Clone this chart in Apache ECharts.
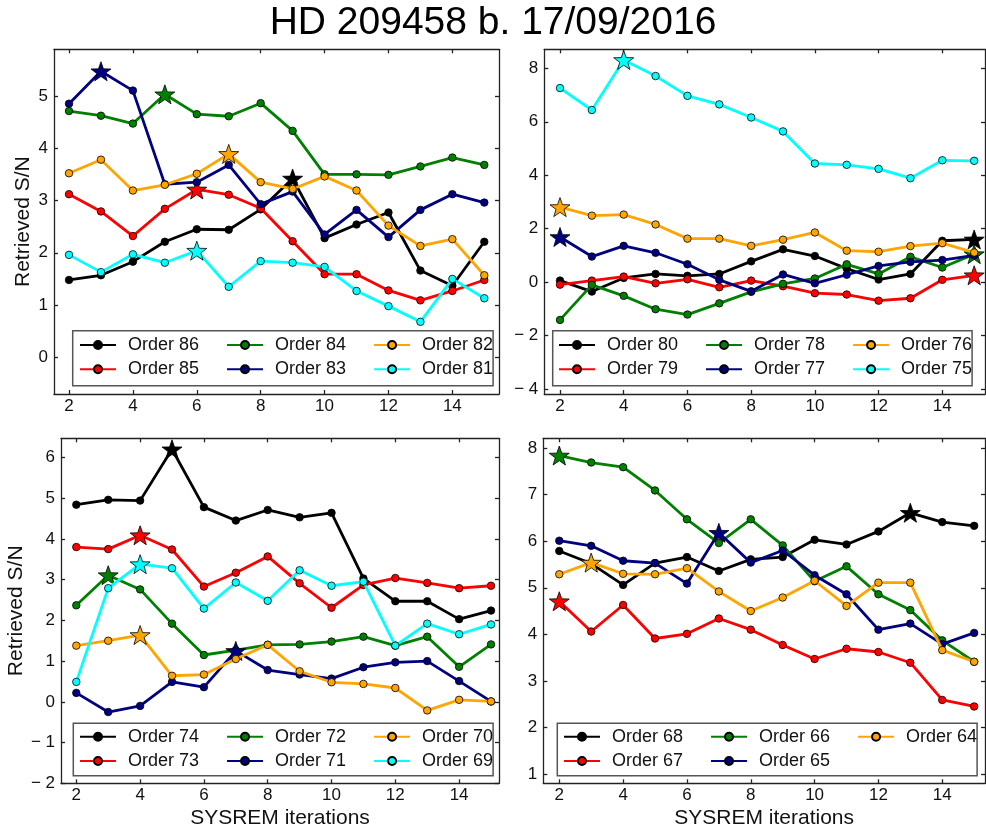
<!DOCTYPE html>
<html>
<head>
<meta charset="utf-8">
<title>HD 209458 b. 17/09/2016</title>
<script src="https://cdn.jsdelivr.net/npm/echarts@6/dist/echarts.min.js"></script>
<style>
  html, body { margin: 0; padding: 0; background: #ffffff; }
  #chart { width: 986px; height: 831px; }
</style>
</head>
<body>
<div id="chart"></div>
<script>
// SYSREM iteration numbers (shared x values for every panel)
const iterations = [2, 3, 4, 5, 6, 7, 8, 9, 10, 11, 12, 13, 14, 15];

// Tick labels
const xTicks = [2, 4, 6, 8, 10, 12, 14];
const yTicksA = [0, 1, 2, 3, 4, 5];
const yTicksB = [-4, -2, 0, 2, 4, 6, 8];
const yTicksC = [-2, -1, 0, 1, 2, 3, 4, 5, 6];
const yTicksD = [1, 2, 3, 4, 5, 6, 7, 8];

// Panel A: orders 86-81
const order86 = [1.48, 1.57, 1.83, 2.21, 2.45, 2.44, 2.83, 3.42, 2.28, 2.54, 2.77, 1.66, 1.37, 2.21];
const order85 = [3.12, 2.79, 2.32, 2.84, 3.21, 3.11, 2.85, 2.22, 1.59, 1.59, 1.28, 1.09, 1.27, 1.48];
const order84 = [4.71, 4.62, 4.47, 5.03, 4.65, 4.61, 4.86, 4.33, 3.50, 3.50, 3.49, 3.65, 3.82, 3.68];
const order83 = [4.85, 5.47, 5.10, 3.31, 3.35, 3.68, 2.93, 3.17, 2.35, 2.82, 2.30, 2.82, 3.12, 2.96];
const order82 = [3.52, 3.78, 3.19, 3.30, 3.51, 3.89, 3.35, 3.22, 3.46, 3.19, 2.52, 2.13, 2.26, 1.57];
const order81 = [1.96, 1.63, 1.97, 1.81, 2.04, 1.35, 1.84, 1.81, 1.73, 1.27, 0.98, 0.68, 1.50, 1.13];

// Panel B: orders 80-75
const order80 = [0.06, -0.35, 0.16, 0.31, 0.24, 0.31, 0.78, 1.23, 0.98, 0.51, 0.10, 0.31, 1.55, 1.60];
const order79 = [-0.09, 0.06, 0.21, -0.04, 0.11, -0.19, 0.06, -0.15, -0.41, -0.46, -0.69, -0.60, 0.09, 0.26];
const order78 = [-1.41, -0.10, -0.51, -1.01, -1.21, -0.79, -0.36, -0.06, 0.14, 0.67, 0.31, 0.95, 0.55, 1.05];
const order77 = [1.69, 0.96, 1.36, 1.10, 0.67, 0.09, -0.34, 0.29, -0.04, 0.28, 0.61, 0.76, 0.83, 1.00];
const order76 = [2.81, 2.49, 2.53, 2.16, 1.63, 1.63, 1.36, 1.59, 1.86, 1.18, 1.14, 1.35, 1.46, 1.11];
const order75 = [7.26, 6.44, 8.31, 7.71, 6.97, 6.65, 6.16, 5.64, 4.44, 4.39, 4.24, 3.89, 4.56, 4.54];

// Panel C: orders 74-69
const order74 = [4.84, 4.96, 4.94, 6.20, 4.78, 4.45, 4.71, 4.53, 4.64, 3.03, 2.47, 2.47, 2.03, 2.24];
const order73 = [3.80, 3.75, 4.09, 3.74, 2.83, 3.17, 3.57, 2.91, 2.31, 2.87, 3.04, 2.92, 2.79, 2.85];
const order72 = [2.37, 3.11, 2.76, 1.92, 1.15, 1.27, 1.40, 1.41, 1.48, 1.60, 1.38, 1.60, 0.86, 1.41];
const order71 = [0.22, -0.25, -0.10, 0.49, 0.36, 1.25, 0.78, 0.67, 0.57, 0.85, 0.97, 1.00, 0.51, 0.01];
const order70 = [1.38, 1.50, 1.64, 0.64, 0.67, 1.05, 1.40, 0.75, 0.48, 0.44, 0.34, -0.21, 0.05, 0.01];
const order69 = [0.49, 2.79, 3.38, 3.28, 2.29, 2.93, 2.48, 3.23, 2.85, 2.95, 1.38, 1.92, 1.66, 1.90];

// Panel D: orders 68-64
const order68 = [5.79, 5.52, 5.06, 5.53, 5.66, 5.36, 5.61, 5.66, 6.03, 5.93, 6.21, 6.61, 6.41, 6.33];
const order67 = [4.71, 4.06, 4.63, 3.91, 4.01, 4.34, 4.10, 3.77, 3.47, 3.69, 3.62, 3.39, 2.59, 2.45];
const order66 = [7.84, 7.69, 7.59, 7.09, 6.47, 5.96, 6.47, 5.91, 5.14, 5.46, 4.86, 4.52, 3.87, 3.41];
const order65 = [6.01, 5.90, 5.58, 5.53, 5.09, 6.18, 5.54, 5.80, 5.27, 4.86, 4.10, 4.23, 3.79, 4.03];
const order64 = [5.29, 5.54, 5.30, 5.29, 5.42, 4.92, 4.50, 4.79, 5.15, 4.61, 5.11, 5.11, 3.66, 3.41];

const palette = ['#000000', '#ff0000', '#008000', '#000080', '#ffa500', '#00ffff'];
const FONT = '"Liberation Sans", Arial, Helvetica, sans-serif';
const STAR = 'path://M0,-10L2.35,-3.24L9.51,-3.09L3.8,1.24L5.88,8.09L0,4L-5.88,8.09L-3.8,1.24L-9.51,-3.09L-2.35,-3.24Z';
const FRAME = '#222222';

const panels = [
  {
    names: ['Order 86', 'Order 85', 'Order 84', 'Order 83', 'Order 82', 'Order 81'],
    values: [order86, order85, order84, order83, order82, order81],
    grid: { left: 54, top: 49.3, width: 445, height: 344.7 },
    x: [1.53, 15.46], y: [-0.70, 5.89], yTicks: yTicksA,
    yName: true, yNameGap: 20, xName: false,
    legend: { box: [72.7, 330.7, 493.3, 385.7], itemX: 79, rows: [345, 369.3] }
  },
  {
    names: ['Order 80', 'Order 79', 'Order 78', 'Order 77', 'Order 76', 'Order 75'],
    values: [order80, order79, order78, order77, order76, order75],
    grid: { left: 544.3, top: 49.3, width: 440.7, height: 344.7 },
    x: [1.507, 15.34], y: [-4.18, 8.71], yTicks: yTicksB,
    yName: false, xName: false,
    legend: { box: [552.7, 330.7, 982.3, 385.7], itemX: 558, rows: [345, 369.3] }
  },
  {
    names: ['Order 74', 'Order 73', 'Order 72', 'Order 71', 'Order 70', 'Order 69'],
    values: [order74, order73, order72, order71, order70, order69],
    grid: { left: 61, top: 438.3, width: 438, height: 345 },
    x: [1.52, 15.25], y: [-2.0, 6.47], yTicks: yTicksC,
    yName: true, yNameGap: 34, xName: true,
    legend: { box: [73.3, 723.3, 497.7, 775.7], itemX: 79, rows: [736.7, 761] }
  },
  {
    names: ['Order 68', 'Order 67', 'Order 66', 'Order 65', 'Order 64'],
    values: [order68, order67, order66, order65, order64],
    grid: { left: 543.3, top: 438.3, width: 441.7, height: 345 },
    x: [1.499, 15.34], y: [0.80, 8.21], yTicks: yTicksD,
    yName: false, xName: true,
    legend: { box: [557.3, 723.3, 982.3, 775.7], itemX: 563, rows: [736.7, 761] }
  }
];

function fmtTick(v) {
  return v < 0 ? '\u2212 ' + Math.abs(v) : String(v);
}

const lineStyleFrame = { color: FRAME, width: 1.3 };
const tickBase = { show: true, inside: true, length: 4, lineStyle: lineStyleFrame };
const labelBase = { fontSize: 17, color: '#111', fontFamily: FONT };

const grids = [], xAxes = [], yAxes = [], series = [], legends = [];

panels.forEach((p, g) => {
  grids.push(Object.assign({ show: false, outerBoundsMode: 'none', containLabel: false }, p.grid));

  // bottom and top x axes (ticks on both edges of the frame)
  xAxes.push({
    type: 'value', gridIndex: g, position: 'bottom', min: p.x[0], max: p.x[1],
    axisLine: { show: true, onZero: false, lineStyle: lineStyleFrame },
    axisTick: Object.assign({ customValues: xTicks }, tickBase),
    axisLabel: Object.assign({ show: true, customValues: xTicks, margin: 4, formatter: fmtTick }, labelBase),
    splitLine: { show: false },
    name: p.xName ? 'SYSREM iterations' : '',
    nameLocation: 'middle', nameGap: 24,
    nameTextStyle: { fontSize: 21, color: '#111', fontFamily: FONT }
  });
  xAxes.push({
    type: 'value', gridIndex: g, position: 'top', min: p.x[0], max: p.x[1],
    axisLine: { show: true, onZero: false, lineStyle: lineStyleFrame },
    axisTick: Object.assign({ customValues: xTicks }, tickBase),
    axisLabel: { show: false },
    splitLine: { show: false }
  });

  // left and right y axes
  yAxes.push({
    type: 'value', gridIndex: g, position: 'left', min: p.y[0], max: p.y[1],
    axisLine: { show: true, onZero: false, lineStyle: lineStyleFrame },
    axisTick: Object.assign({ customValues: p.yTicks }, tickBase),
    axisLabel: Object.assign({ show: true, customValues: p.yTicks, margin: 6, formatter: fmtTick }, labelBase),
    splitLine: { show: false },
    name: p.yName ? 'Retrieved S/N' : '',
    nameLocation: 'middle', nameGap: p.yNameGap || 20, nameRotate: 90,
    nameTextStyle: { fontSize: 21, color: '#111', fontFamily: FONT }
  });
  yAxes.push({
    type: 'value', gridIndex: g, position: 'right', min: p.y[0], max: p.y[1],
    axisLine: { show: true, onZero: false, lineStyle: lineStyleFrame },
    axisTick: Object.assign({ customValues: p.yTicks }, tickBase),
    axisLabel: { show: false },
    splitLine: { show: false }
  });

  // one line per echelle order; the best iteration is marked with a star
  p.names.forEach((name, k) => {
    const vals = p.values[k];
    const color = palette[k];
    const peak = vals.indexOf(Math.max.apply(null, vals));
    series.push({
      type: 'line', name: name,
      xAxisIndex: 2 * g, yAxisIndex: 2 * g,
      data: vals.map((v, i) => i === peak
        ? { value: [iterations[i], v], symbol: STAR, symbolSize: [20, 19] }
        : [iterations[i], v]),
      symbol: 'circle', symbolSize: 7.5, showSymbol: true,
      lineStyle: { color: color, width: 2.8 },
      itemStyle: { color: color, borderColor: '#000', borderWidth: 0.8 },
      emphasis: { disabled: true },
      animation: false, z: 2 + k * 0.01
    });
  });

  // legend: two rows, three columns, filled column by column
  const L = p.legend;
  const rowA = [], rowB = [];
  p.names.forEach((n, k) => (k % 2 === 0 ? rowA : rowB).push(n));
  const common = {
    orient: 'horizontal', itemWidth: 36, itemHeight: 10, itemGap: 27,
    selectedMode: false,
    textStyle: { fontSize: 18, color: '#111', fontFamily: FONT, padding: [0, 0, 0, 7] }
  };
  const itemH = 18;
  legends.push(Object.assign({}, common, {
    data: rowA, left: L.box[0], top: L.box[1],
    padding: [L.rows[0] - itemH / 2 - L.box[1], 0,
              L.box[3] - (L.rows[0] + itemH / 2), L.itemX - L.box[0]],
    backgroundColor: '#ffffff', borderColor: '#555555', borderWidth: 1.5, borderRadius: 0
  }));
  legends.push(Object.assign({}, common, {
    data: rowB, left: L.itemX, top: L.rows[1] - itemH / 2, padding: 0, z: 5
  }));
});

const chart = echarts.init(document.getElementById('chart'), null, { renderer: 'canvas' });
chart.setOption({
  backgroundColor: '#ffffff',
  animation: false,
  title: {
    text: 'HD 209458 b. 17/09/2016', left: 'center', top: -1,
    textStyle: { fontSize: 39, fontWeight: 'normal', color: '#000', fontFamily: FONT }
  },
  grid: grids,
  xAxis: xAxes,
  yAxis: yAxes,
  legend: legends,
  series: series
});
</script>
</body>
</html>
